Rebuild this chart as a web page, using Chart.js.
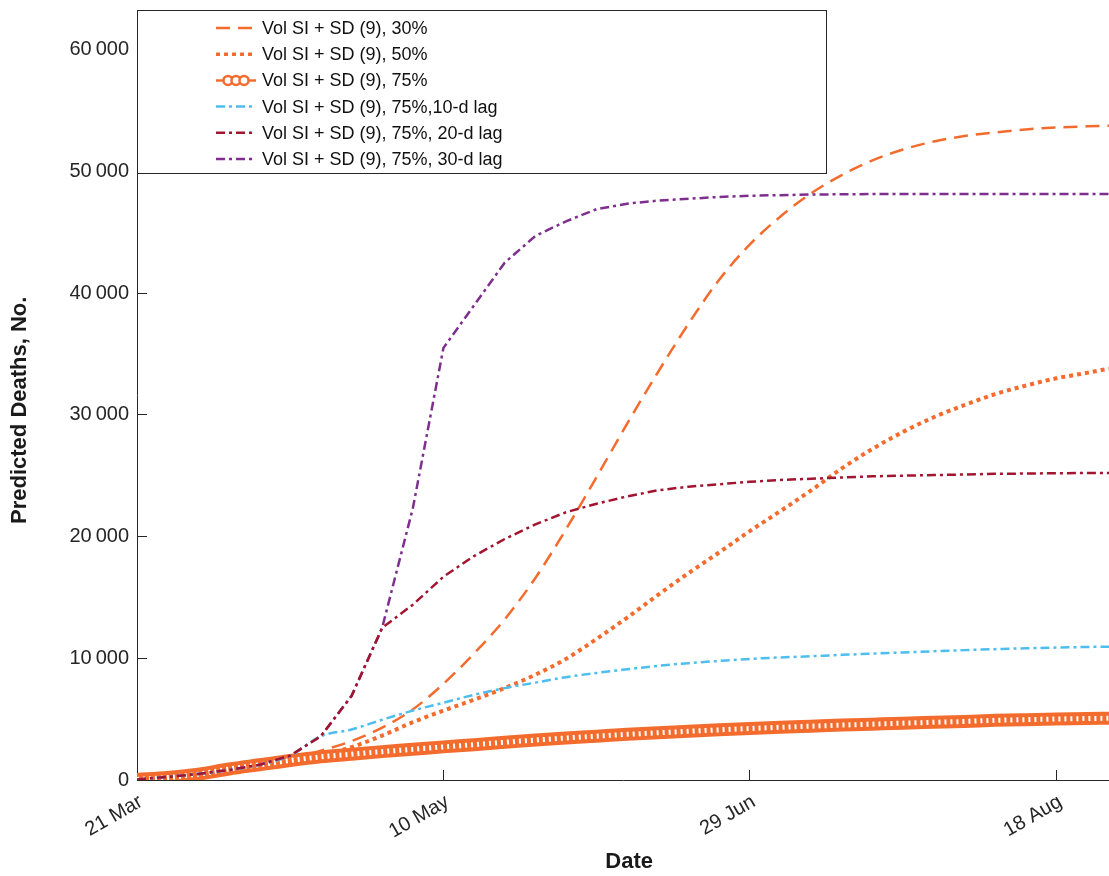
<!DOCTYPE html>
<html>
<head>
<meta charset="utf-8">
<script src="https://cdn.jsdelivr.net/npm/chart.js@4.4.0/dist/chart.umd.min.js"></script>
<style>
body { margin: 0; background: #fff; }
</style>
</head>
<body>
<canvas id="grafico" width="1109" height="876"></canvas>
<script>
// dias desde 21 Mar
const dias = [0, 5, 10, 15, 20, 25, 30, 35, 40, 45, 50, 55, 60, 65, 70, 75, 80, 85, 90, 95, 100,
    105, 110, 115, 120, 125, 130, 135, 140, 145, 150, 155, 158.6];

const vol30 = [50, 200, 450, 750, 1150, 1700, 2400, 3200, 4300, 5800, 7900, 10400, 13200, 16600, 20600, 24900,
    29300, 33500, 37500, 41100, 44000, 46300, 48200, 49700, 50900, 51800, 52450, 52900, 53200, 53450, 53600, 53700, 53750];
const vol50 = [50, 200, 450, 750, 1100, 1500, 2000, 2700, 3650, 4750, 5700, 6600, 7550, 8650, 9950, 11600,
    13350, 15200, 17000, 18700, 20450, 22100, 23800, 25600, 27200, 28600, 29800, 30800, 31700, 32400, 33000, 33450, 33800];
const vol75 = [50, 200, 480, 900, 1250, 1600, 1900, 2120, 2330, 2520, 2720, 2900, 3100, 3280, 3450, 3600,
    3750, 3880, 4000, 4120, 4230, 4330, 4420, 4510, 4590, 4670, 4740, 4810, 4900, 4960, 5010, 5050, 5070];
const lag10 = [50, 250, 500, 820, 1250, 2000, 3600, 4150, 4950, 5700, 6350, 7000, 7550, 8000, 8450, 8800,
    9100, 9380, 9600, 9780, 9950, 10070, 10170, 10280, 10380, 10480, 10580, 10670, 10750, 10820, 10880, 10930, 10950];
const lag20 = [50, 250, 500, 820, 1250, 2000, 3600, 6900, 12500, 14400, 16700, 18400, 19800, 21000, 22000, 22700,
    23300, 23800, 24100, 24300, 24500, 24650, 24750, 24850, 24950, 25000, 25050, 25100, 25150, 25180, 25200, 25220, 25230];
const lag30 = [50, 250, 500, 820, 1250, 2000, 3600, 6900, 12500, 22300, 35500, 39000, 42500, 44700, 45900, 46900,
    47350, 47600, 47750, 47900, 48000, 48050, 48100, 48120, 48140, 48150, 48150, 48150, 48150, 48150, 48150, 48150, 48150];

const nomes = ['Vol SI + SD (9), 30%', 'Vol SI + SD (9), 50%', 'Vol SI + SD (9), 75%',
    'Vol SI + SD (9), 75%,10-d lag', 'Vol SI + SD (9), 75%, 20-d lag', 'Vol SI + SD (9), 75%, 30-d lag'];

const diasTicks = [0, 50, 100, 150];
const rotulosX = ['21 Mar', '10 May', '29 Jun', '18 Aug'];
const valoresY = [0, 10000, 20000, 30000, 40000, 50000, 60000];

const laranja = '#F36C2E';
const fonte = "'Liberation Sans', Arial, sans-serif";
Chart.defaults.font.family = fonte;

function pontos(serie) {
    return dias.map((d, i) => ({ x: d, y: serie[i] }));
}

// legenda desenhada dentro da area do grafico, com caixa
const legendaBox = {
    id: 'legendaBox',
    afterDraw(chart) {
        const ctx = chart.ctx;
        const a = chart.chartArea;
        ctx.save();
        ctx.fillStyle = '#fff';
        ctx.fillRect(a.left, a.top, 689, 163);
        ctx.strokeStyle = '#262626';
        ctx.lineWidth = 1;
        ctx.strokeRect(a.left + 0.5, a.top + 0.5, 689, 163);

        const itens = chart.data.datasets.filter(ds => ds.label);
        itens.sort((p, q) => p.pos - q.pos);
        itens.forEach((ds, i) => {
            const y = a.top + 18 + i * 26.2;
            const x1 = a.left + 79, x2 = a.left + 119;
            ctx.strokeStyle = ds.borderColor;
            ctx.lineCap = 'butt';
            if (ds.pos === 2) {
                ctx.setLineDash([]);
                ctx.lineWidth = 2.5;
                ctx.beginPath(); ctx.moveTo(x1, y); ctx.lineTo(x2, y); ctx.stroke();
                [-8, 0, 8].forEach(dx => {
                    ctx.beginPath();
                    ctx.arc((x1 + x2) / 2 + dx, y, 4.5, 0, Math.PI * 2);
                    ctx.fillStyle = '#fff';
                    ctx.fill();
                    ctx.stroke();
                });
            } else {
                ctx.setLineDash(ds.borderDash);
                ctx.lineWidth = Math.min(ds.borderWidth, 3.5);
                ctx.beginPath(); ctx.moveTo(x1, y); ctx.lineTo(x2, y); ctx.stroke();
            }
            ctx.setLineDash([]);
            ctx.fillStyle = '#111';
            ctx.font = '18px ' + fonte;
            ctx.textBaseline = 'middle';
            ctx.textAlign = 'left';
            ctx.fillText(ds.label, a.left + 125, y + 1);
        });
        ctx.restore();
    }
};

new Chart(document.getElementById('grafico'), {
    type: 'line',
    data: {
        datasets: [
            { label: nomes[4], pos: 4, data: pontos(lag20), borderColor: '#A2142F', borderWidth: 2.5, borderDash: [9, 4, 3, 4], tension: 0, cubicInterpolationMode: 'default', order: 1 },
            { label: nomes[3], pos: 3, data: pontos(lag10), borderColor: '#4DBEEE', borderWidth: 2.5, borderDash: [9, 4, 3, 4], order: 2 },
            { label: nomes[5], pos: 5, data: pontos(lag30), borderColor: '#7E2F8E', borderWidth: 2.5, borderDash: [9, 4, 3, 4], tension: 0, cubicInterpolationMode: 'default', order: 3 },
            { label: '', data: pontos(vol75), borderColor: '#fff', borderWidth: 5, borderDash: [2, 4], order: 4 },
            { label: nomes[2], pos: 2, data: pontos(vol75), borderColor: laranja, borderWidth: 13, borderDash: [], borderCapStyle: 'round', order: 5 },
            { label: nomes[1], pos: 1, data: pontos(vol50), borderColor: laranja, borderWidth: 4, borderDash: [4, 4], order: 6 },
            { label: nomes[0], pos: 0, data: pontos(vol30), borderColor: laranja, borderWidth: 2.5, borderDash: [14, 8], order: 7 }
        ]
    },
    options: {
        responsive: false,
        animation: false,
        layout: { padding: { top: 10, left: 0, right: 0, bottom: 0 } },
        elements: {
            point: { radius: 0 },
            line: { cubicInterpolationMode: 'monotone', fill: false }
        },
        plugins: {
            legend: { display: false },
            tooltip: { enabled: false }
        },
        scales: {
            x: {
                type: 'linear',
                min: 0,
                max: 158.6,
                afterBuildTicks: s => { s.ticks = diasTicks.map(v => ({ value: v })); },
                afterFit: s => { s.height = 96; s.paddingLeft = 0; s.paddingRight = 0; },
                grid: { drawOnChartArea: false, tickLength: -10, color: '#262626' },
                border: { color: '#262626' },
                ticks: {
                    autoSkip: false, minRotation: 30, maxRotation: 30, padding: 20, labelOffset: 4,
                    color: '#262626', font: { size: 20 },
                    callback: v => rotulosX[diasTicks.indexOf(v)]
                },
                title: { display: true, text: '  Date', color: '#1a1a1a', font: { size: 22, weight: 'bold' }, padding: { top: 0, bottom: 1 } }
            },
            y: {
                min: 0,
                max: 63260,
                afterBuildTicks: s => { s.ticks = valoresY.map(v => ({ value: v })); },
                afterFit: s => { s.width = 137; s.paddingTop = 0; s.paddingBottom = 0; },
                grid: { drawOnChartArea: false, tickLength: -10, color: '#262626' },
                border: { color: '#262626' },
                ticks: {
                    padding: 18, color: '#262626', font: { size: 20 },
                    callback: v => v === 0 ? '0' : (v / 1000) + '\u2009000'
                },
                title: { display: true, text: 'Predicted Deaths, No.     ', color: '#1a1a1a', font: { size: 22, weight: 'bold' }, padding: { top: 7, bottom: 0 } }
            }
        }
    },
    plugins: [legendaBox]
});
</script>
</body>
</html>
